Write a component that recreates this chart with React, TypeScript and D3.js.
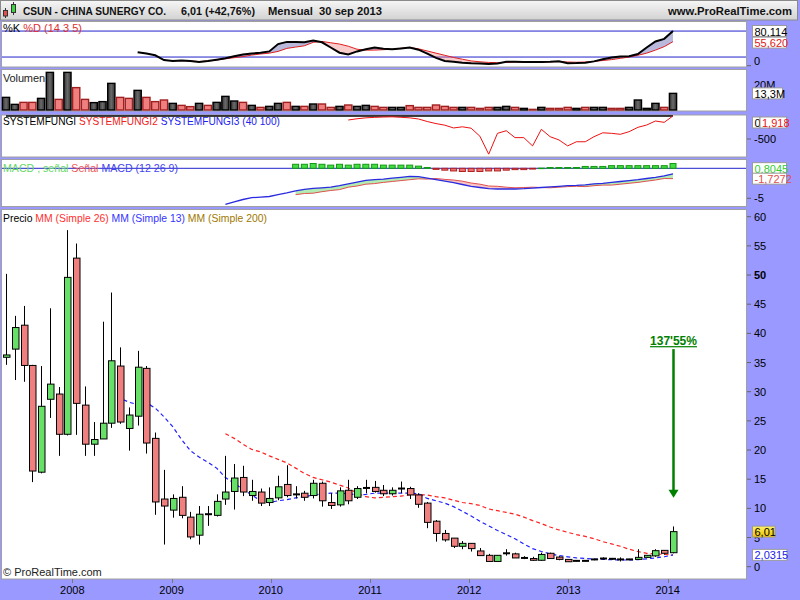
import React from "react";
import * as d3 from "d3";

// ---------------- data ----------------
const months = d3
  .timeMonths(new Date(2007, 4, 1), new Date(2013, 9, 1))
  .map((d) => d3.timeFormat("%Y-%m")(d));

const opens = [35.9,37.3,41.4,34.5,16.2,28.7,29.6,22.7,52.9,27.7, 21.0,21.9,24.6,34.4,23.7,25.8,34.0,22.0,11.6,9.7, 11.9,8.5,5.4,9.0,8.8,11.6,12.9,15.3,12.2,12.8, 11.0,11.8,14.1,12.4,12.6,12.2,14.3,11.0,10.6,13.1, 11.9,13.5,13.6,13.1,12.5,13.4,13.4,12.3,10.9,7.8, 5.7,4.9,3.5,4.0,2.7,1.95,0.9,2.3,2.2,1.5, 1.4,1.1,2.3,1.65,1.25,1.0,1.0,1.25,1.4,1.35, 1.25,1.25,1.25,1.6,1.85,2.8,2.4];
const highs = [50.2,43.0,44.7,34.6,34.4,44.3,30.8,57.7,55.4,30.9, 24.8,42.0,47.0,37.6,27.3,37.0,34.4,23.0,16.6,12.4, 13.8,9.4,10.4,10.4,12.4,19.0,17.6,17.3,14.9,13.4, 13.6,15.6,17.4,13.8,13.0,14.9,14.6,12.6,13.6,14.9, 13.8,14.9,14.7,14.0,13.6,14.6,13.7,12.6,11.1,8.0, 6.3,4.9,4.4,4.0,3.2,2.2,2.0,3.0,2.4,1.8, 1.7,2.4,2.4,1.8,1.3,1.1,1.1,1.35,1.6,1.5, 1.6,1.35,3.0,2.0,3.0,2.85,6.9];
const lows = [34.6,32.0,31.7,14.5,16.0,25.5,19.0,22.5,22.6,19.0, 19.0,21.9,23.8,24.5,19.9,24.2,19.4,8.9,3.8,8.4, 8.3,4.7,3.8,7.0,8.6,10.6,9.8,12.1,11.3,10.4, 10.4,11.4,11.9,11.7,11.3,11.7,10.3,9.9,10.3,10.7, 11.6,12.6,12.7,12.1,12.2,12.6,11.6,10.1,6.6,4.3, 4.3,3.2,3.0,2.6,1.9,0.9,0.9,1.9,1.5,1.3, 1.0,1.0,1.4,1.1,0.85,0.9,0.9,1.1,1.2,1.2, 0.9,1.15,1.2,1.5,1.7,2.05,2.3];
const closes = [36.3,41.0,34.5,16.4,27.5,31.3,22.7,49.6,28.0,21.0, 21.8,24.6,35.3,24.8,26.0,34.2,21.2,11.1,10.4,11.7, 8.8,5.1,9.0,9.0,11.2,12.8,15.2,12.8,12.9,10.9, 11.7,13.7,12.2,12.4,11.9,14.3,11.3,10.5,13.0,11.3, 13.4,13.5,12.9,12.5,13.1,13.4,12.3,10.7,7.6,5.7, 4.6,3.5,4.0,3.1,1.9,0.9,1.95,2.3,1.5,1.5, 1.1,2.1,1.4,1.25,0.85,1.0,1.0,1.25,1.4,1.35, 1.25,1.25,1.6,1.95,2.75,2.3,6.01];

// volume in millions, and whether the bar is drawn dark (1) or red (0)
const volumes = [10.1,4.5,6.1,6.1,9.3,30.1,8.5,30.1,17.9,8.5, 5.9,6.7,21.3,10.1,9.3,15.7,10.1,6.7,8.0,5.3, 3.7,2.7,5.3,3.7,6.1,10.9,7.2,6.1,3.7,2.1, 2.9,5.3,6.1,2.9,2.9,4.8,4.8,2.1,2.9,4.0, 2.9,3.7,2.9,2.1,2.1,2.1,3.5,2.1,2.1,4.0, 2.9,2.1,2.1,2.1,1.3,2.1,2.1,2.9,2.1,1.3, 0.5,2.1,1.3,1.3,2.1,1.3,2.1,2.1,2.1,1.3, 1.3,2.1,8.0,1.3,5.3,2.1,13.3];
const volumeUp = [1,1,0,0,1,1,0,1,0,0, 1,1,1,0,0,1,0,0,0,1, 0,0,1,0,1,1,1,0,1,0, 1,1,0,1,0,1,0,0,1,0, 1,1,0,0,1,1,0,0,0,0, 0,0,1,0,0,0,1,1,0,1, 0,1,0,0,0,1,0,1,1,0, 0,1,1,1,1,0,1];

const ma13Start = 12;
const ma13 = [29.8,28.9,28.2,27.8,28.1,27.2,25.7,24.0,21.8,19.9, 18.8,17.9,16.9,15.3,14.3,13.3,12.3,11.3,11.0,11.3, 11.5,11.8,12.0,12.3,12.5,12.6,12.6,12.5,12.3,12.4, 12.6,12.6,12.6,12.6,12.6,12.5,11.7,11.3,10.9,10.3, 9.5,8.7,7.8,7.0,6.2,5.5,4.8,3.9,3.1,2.6, 2.2,1.9,1.7,1.5,1.4,1.3,1.25,1.2,1.15,1.15, 1.2,1.35,1.5,1.7,2.0315];
const ma26Start = 25;
const ma26 = [22.8,22.0,21.0,20.1,19.7,19.0,18.4,17.8,16.9,16.0, 15.3,14.9,14.5,14.0,13.5,12.6,12.0,11.8,11.9,12.0, 12.1,12.3,12.3,12.3,12.0,11.8,11.4,11.0,10.8,10.5, 9.9,9.6,9.3,9.0,8.5,7.9,7.4,6.8,6.3,5.9, 5.5,5.2,4.8,4.3,3.9,3.5,3.0,2.6,2.3,2.2, 2.1,2.0];

const stochKStart = 15;
const stochK = [31,28,24,13,11,12,11,8.5,11,14, 17,22,26,28,30,33,50,55,55,54, 58,54,42,30,26,33,38,42,39,38, 40,42,37,28,18,11,9,7,5.5,5, 4,5,9,9,8.5,8.5,8.5,9,10,5.5, 6,7,10,15,19,21,22,27,42,56, 62,80.114];
const stochDStart = 19;
const stochD = [11,12,11,9.5,11,13,16,18.5,21,24.5, 27,29,33,40,43,46,54,56,53,50, 45,38,36,36,37,38,40,42,39,34, 29,24,19,15,11,9,7.5,7,7.5,8.5, 8.5,8.5,8.5,9,9.5,8.5,8,8.5,10,12, 14,17,20,24,29,36,44,55.62];

const fungi1 = 0;
const fungi2Start = 39;
const fungi2 = [-87,-60,-40,-30,-22,-18,-28,-40,-65,-120, -165,-200,-260,-235,-265,-440,-830,-377,-320,-470, -470,-650,-290,-450,-520,-650,-560,-560,-450,-365, -377,-398,-341,-246,-196,-109,-138,1.918];

const macdStart = 25;
const macdLine = [-6.0,-5.6,-5.2,-4.9,-4.8,-4.7,-4.4,-4.1,-3.75,-3.5, -3.35,-3.25,-3.15,-2.9,-2.6,-2.3,-2.0,-1.9,-1.8,-1.65, -1.5,-1.35,-1.4,-1.65,-1.9,-2.15,-2.4,-2.7,-3.0,-3.2, -3.4,-3.45,-3.45,-3.45,-3.4,-3.3,-3.2,-3.1,-3.0,-2.9, -2.85,-2.75,-2.6,-2.5,-2.35,-2.2,-2.05,-1.9,-1.7,-1.5, -1.25,-0.92];
const signalStart = 33;
const macdSignal = [-4.4,-4.2,-4.15,-3.9,-3.7,-3.55,-3.15,-2.95,-2.65,-2.55, -2.35,-2.2,-2.05,-1.9,-1.75,-1.8,-1.7,-1.85,-1.95,-2.15, -2.45,-2.65,-2.95,-3.0,-3.15,-3.25,-3.2,-3.15,-3.2,-3.25, -3.15,-3.05,-3.0,-3.05,-2.9,-2.8,-2.8,-2.65,-2.5,-2.35, -2.15,-1.95,-1.7,-1.7272];
const macdHist = [0.67,0.67,0.8,0.67,0.53,0.67,0.53,0.67,0.67,0.67, 0.53,0.53,0.53,0.53,0.36,0.13,-0.18,-0.31,-0.44,-0.53, -0.53,-0.53,-0.44,-0.44,-0.31,-0.22,-0.22,-0.13,0.03,0.13, 0.13,0.13,0.13,0.31,0.31,0.31,0.44,0.44,0.44,0.44, 0.44,0.44,0.44,0.8045];

const years = [2008, 2009, 2010, 2011, 2012, 2013, 2014];
const priceTicks = [0, 5, 10, 15, 20, 25, 30, 35, 40, 45, 50, 55, 60];
const arrowFrom = 37.3;
const arrowTo = 11.8;
const arrowLabel = "137'55%";

// ---------------- styling ----------------
const FONT = "'Liberation Sans', Arial, Helvetica, sans-serif";
const BG = "#9999ff";
const BORDER = "#a0a0a0";
const GREEN = "#66e066";
const RED = "#f08080";

type P = { i: number; v: number };
const toSeries = (vals: number[], start: number): P[] => vals.map((v, k) => ({ i: start + k, v }));
const fmt = (v: number, d: number) => v.toFixed(d).replace(".", ",");

function ValueBox({ x, y, w, text, color, fill }: any) {
  const h = 11;
  return (
    <g>
      <rect x={x} y={y - h / 2} width={w} height={h} fill={fill || "#ffffff"} stroke="#9a9a9a" strokeWidth={1} />
      <text x={x + 2} y={y + 0.5} fontSize={11} fontFamily={FONT} fill={color} dominantBaseline="central">
        {text}
      </text>
    </g>
  );
}

export default function App() {
  const N = months.length;
  const x = d3.scalePoint<string>().domain(months).range([6, 673]);
  const xi = (i: number) => x(months[i]) as number;
  const xYear = d3.scaleLinear().domain([2008, 2014]).range([72.3, 667.7]);

  const yP = d3.scaleLinear().domain([0, 60]).range([566.7, 216.7]);
  const yK = d3.scaleLinear().domain([0, 100]).range([65.7, 22.4]);
  const yV = d3.scaleLinear().domain([0, 20]).range([110, 85]);
  const yF = d3.scaleLinear().domain([-500, 0]).range([139, 116]);
  const yM = d3.scaleLinear().domain([-5, 0]).range([198.3, 168.3]);

  const panels = [
    { y0: 21, y1: 66.5 },
    { y0: 69, y1: 110.5 },
    { y0: 114.5, y1: 156.5 },
    { y0: 159, y1: 206 },
    { y0: 209, y1: 578.5 },
  ];
  const plotX0 = 1;
  const plotX1 = 747;

  const s13 = toSeries(ma13, ma13Start);
  const s26 = toSeries(ma26, ma26Start);
  const sK = toSeries(stochK, stochKStart);
  const sD = toSeries(stochD, stochDStart);
  const sF2 = toSeries(fungi2, fungi2Start);
  const sMacd = toSeries(macdLine, macdStart);
  const sSig = toSeries(macdSignal, signalStart);
  const sHist = toSeries(macdHist, signalStart);

  const linePrice = d3.line<P>().x((d) => xi(d.i)).y((d) => yP(d.v));
  const lineK = d3.line<P>().x((d) => xi(d.i)).y((d) => yK(d.v));
  const lineF = d3.line<P>().x((d) => xi(d.i)).y((d) => yF(d.v));
  const lineM = d3.line<P>().x((d) => xi(d.i)).y((d) => yM(d.v));

  const kdPairs = sD.map((d) => ({ i: d.i, k: stochK[d.i - stochKStart], d: d.v }));
  const areaKup = d3.area<any>().x((p) => xi(p.i)).y0((p) => yK(p.d)).y1((p) => yK(Math.max(p.k, p.d)));
  const areaKdn = d3.area<any>().x((p) => xi(p.i)).y0((p) => yK(p.d)).y1((p) => yK(Math.min(p.k, p.d)));

  const msPairs = sSig.map((s) => ({ i: s.i, m: macdLine[s.i - macdStart], s: s.v }));
  const areaMup = d3.area<any>().x((p) => xi(p.i)).y0((p) => yM(p.s)).y1((p) => yM(Math.max(p.m, p.s)));
  const areaMdn = d3.area<any>().x((p) => xi(p.i)).y0((p) => yM(p.s)).y1((p) => yM(Math.min(p.m, p.s)));

  const fungiFlat = d3.range(N).map((i) => ({ i, v: fungi1 }));

  const last = N - 1;
  const ax = Math.round(xi(last)) + 0.5;

  return (
    <svg width={800} height={600} style={{ position: "absolute", left: 0, top: 0 }} fontFamily={FONT}>
      <defs>
        <linearGradient id="hdr" x1="0" y1="0" x2="0" y2="1">
          <stop offset="0" stopColor="#f6f6f6" />
          <stop offset="1" stopColor="#d2d2d2" />
        </linearGradient>
        <linearGradient id="gold" x1="0" y1="0" x2="0" y2="1">
          <stop offset="0" stopColor="#fff36a" />
          <stop offset="1" stopColor="#f0c000" />
        </linearGradient>
        <linearGradient id="volDark" x1="0" y1="0" x2="1" y2="0">
          <stop offset="0" stopColor="#333" />
          <stop offset="0.5" stopColor="#6a6a6a" />
          <stop offset="1" stopColor="#333" />
        </linearGradient>
      </defs>
      <rect x={0} y={0} width={800} height={600} fill={BG} />

      {panels.map((p, k) => (
        <rect key={k} x={plotX0 + 0.5} y={p.y0 + 0.5} width={plotX1 - plotX0 - 1} height={p.y1 - p.y0} fill="#ffffff" stroke={BORDER} strokeWidth={1} />
      ))}

      {/* ---------- stochastic ---------- */}
      <g>
        <line x1={plotX0 + 1} x2={plotX1 - 1} y1={yK(80)} y2={yK(80)} stroke="#2222cc" strokeWidth={1} />
        <line x1={plotX0 + 1} x2={plotX1 - 1} y1={yK(20)} y2={yK(20)} stroke="#2222cc" strokeWidth={1} />
        <path d={areaKup(kdPairs) || ""} fill="#8080c0" fillOpacity={0.55} />
        <path d={areaKdn(kdPairs) || ""} fill="#f08080" fillOpacity={0.4} />
        <path d={lineK(sD) || ""} fill="none" stroke="#e02020" strokeWidth={1} />
        <path d={lineK(sK) || ""} fill="none" stroke="#000" strokeWidth={2} />
        <text x={3} y={32} fontSize={11} textLength={79} lengthAdjust="spacing">
          <tspan fill="#000">%K </tspan>
          <tspan fill="#e03030">%D (14 3 5)</tspan>
        </text>
      </g>

      {/* ---------- volume ---------- */}
      <g>
        {volumes.map((v, i) => {
          const cx = xi(i);
          const top = yV(v);
          const up = volumeUp[i] === 1;
          return (
            <rect key={i} x={cx - 3.6} y={top} width={7.2} height={yV(0) - top} fill={up ? "url(#volDark)" : RED} stroke={up ? "#000" : "#a02020"} strokeWidth={1.4} />
          );
        })}
        <text x={3} y={82} fontSize={11} fill="#222" textLength={42} lengthAdjust="spacing">Volumen</text>
      </g>

      {/* ---------- systemfungi ---------- */}
      <g>
        <path d={lineF(fungiFlat) || ""} fill="none" stroke="#000" strokeWidth={1.5} />
        <path d={lineF(sF2) || ""} fill="none" stroke="#ee1111" strokeWidth={1} />
        <text x={3} y={125} fontSize={11} textLength={277} lengthAdjust="spacingAndGlyphs">
          <tspan fill="#000">SYSTEMFUNGI </tspan>
          <tspan fill="#ee2222">SYSTEMFUNGI2 </tspan>
          <tspan fill="#2222ee">SYSTEMFUNGI3 (40 100)</tspan>
        </text>
      </g>

      {/* ---------- MACD ---------- */}
      <g>
        <line x1={plotX0 + 1} x2={plotX1 - 1} y1={yM(0)} y2={yM(0)} stroke="#2222cc" strokeWidth={1} />
        {sHist.map((d) => {
          const cx = xi(d.i);
          const y0 = yM(0);
          const y1 = yM(d.v);
          const pos = d.v >= 0;
          return (
            <rect key={d.i} x={cx - 3} y={Math.min(y0, y1)} width={6} height={Math.max(0.5, Math.abs(y1 - y0))} fill={pos ? "#44dd44" : "#f07070"} stroke={pos ? "#119911" : "#b02020"} strokeWidth={1} />
          );
        })}
        <path d={areaMup(msPairs) || ""} fill="#7ee07e" fillOpacity={0.6} />
        <path d={areaMdn(msPairs) || ""} fill="#f08080" fillOpacity={0.45} />
        <path d={lineM(sSig) || ""} fill="none" stroke="#e05050" strokeWidth={1} />
        <path d={lineM(sMacd) || ""} fill="none" stroke="#2a2ae0" strokeWidth={1.3} />
        <text x={3} y={172} fontSize={11} textLength={175} lengthAdjust="spacingAndGlyphs">
          <tspan fill="#66d866">MACD , señal </tspan>
          <tspan fill="#ee5555">Señal </tspan>
          <tspan fill="#4444ee">MACD (12 26 9)</tspan>
        </text>
      </g>

      {/* ---------- price ---------- */}
      <g>
        <path d={linePrice(s26) || ""} fill="none" stroke="#ff2020" strokeWidth={1.2} strokeDasharray="4,3" />
        <path d={linePrice(s13) || ""} fill="none" stroke="#2020ff" strokeWidth={1.2} strokeDasharray="4,3" />
        {d3.range(N).map((i) => {
          const cx = Math.round(xi(i)) + 0.5;
          const o = opens[i];
          const c = closes[i];
          const doji = Math.abs(o - c) < 0.02;
          const top = yP(Math.max(o, c));
          const bot = yP(Math.min(o, c));
          return (
            <g key={i}>
              <line x1={cx} x2={cx} y1={yP(highs[i])} y2={yP(lows[i])} stroke="#000" strokeWidth={1} />
              {doji ? (
                <line x1={cx - 3.5} x2={cx + 3.5} y1={yP(c)} y2={yP(c)} stroke="#000" strokeWidth={2} />
              ) : (
                <rect x={cx - 3} y={top} width={6.5} height={Math.max(1, bot - top)} fill={c > o ? GREEN : RED} stroke="#000" strokeWidth={1} />
              )}
            </g>
          );
        })}
        <text x={3} y={221.5} fontSize={11} textLength={264} lengthAdjust="spacingAndGlyphs">
          <tspan fill="#000">Precio </tspan>
          <tspan fill="#ff3030">MM (Simple 26) </tspan>
          <tspan fill="#3333ff">MM (Simple 13) </tspan>
          <tspan fill="#a07800">MM (Simple 200)</tspan>
        </text>
        <text x={ax} y={yP(arrowFrom) - 4} fontSize={12} fontWeight="bold" fill="#008000" textAnchor="middle" textDecoration="underline">
          {arrowLabel}
        </text>
        <line x1={ax} x2={ax} y1={yP(arrowFrom)} y2={yP(arrowTo) - 6} stroke="#008000" strokeWidth={2.5} />
        <path d={`M${ax - 5},${yP(arrowTo) - 8} L${ax + 5},${yP(arrowTo) - 8} L${ax},${yP(arrowTo)} Z`} fill="#008000" />
        <text x={3} y={576} fontSize={11} fill="#222">© ProRealTime.com</text>
      </g>

      {/* ---------- right axes ---------- */}
      <g fontSize={11} fill="#000">
        {priceTicks.map((t) => (
          <g key={t}>
            <line x1={plotX1} x2={plotX1 + 4} y1={yP(t)} y2={yP(t)} stroke="#666" />
            <text x={754} y={yP(t)} dominantBaseline="central" fontWeight={t === 50 ? "bold" : "normal"}>{t}</text>
          </g>
        ))}
        <line x1={plotX1} x2={plotX1 + 4} y1={yK(0)} y2={yK(0)} stroke="#666" />
        <text x={754} y={yK(0) - 4.5} dominantBaseline="central">0</text>
        <text x={754} y={yV(20)} dominantBaseline="central">20M</text>
        <line x1={plotX1} x2={plotX1 + 4} y1={yF(-500)} y2={yF(-500)} stroke="#666" />
        <text x={754} y={yF(-500)} dominantBaseline="central">-500</text>
        <line x1={plotX1} x2={plotX1 + 4} y1={yM(-5)} y2={yM(-5)} stroke="#666" />
        <text x={754} y={yM(-5)} dominantBaseline="central">-5</text>
      </g>

      {/* value boxes */}
      <ValueBox x={752.5} y={yK(stochK[stochK.length - 1])} w={34} text={fmt(stochK[stochK.length - 1], 3)} color="#000" />
      <ValueBox x={752.5} y={yK(stochD[stochD.length - 1]) + 1} w={34} text={fmt(stochD[stochD.length - 1], 3)} color="#e02020" />
      <ValueBox x={752.5} y={yV(volumes[last])} w={30} text={fmt(volumes[last], 1) + "M"} color="#000" />
      <ValueBox x={752.5} y={Math.max(yF(fungi1), panels[2].y0 + 8)} w={7.5} text={String(fungi1)} color="#000" />
      <ValueBox x={760} y={Math.max(yF(fungi2[fungi2.length - 1]), panels[2].y0 + 8)} w={26.5} text={fmt(fungi2[fungi2.length - 1], 3)} color="#ee1111" />
      <ValueBox x={752.5} y={yM(macdSignal[macdSignal.length - 1]) - 10.5} w={34} text={fmt(macdHist[macdHist.length - 1], 4)} color="#33cc33" />
      <ValueBox x={752.5} y={yM(macdSignal[macdSignal.length - 1])} w={34} text={fmt(macdSignal[macdSignal.length - 1], 4)} color="#e05050" />
      <ValueBox x={752.5} y={yP(closes[last])} w={22.5} text={fmt(closes[last], 2)} color="#000" fill="url(#gold)" />
      <ValueBox x={752.5} y={yP(ma13[ma13.length - 1])} w={34.5} text={fmt(ma13[ma13.length - 1], 4)} color="#2020ee" />

      {/* ---------- x axis ---------- */}
      <g>
        {years.map((yr) => (
          <g key={yr}>
            <line x1={Math.round(xYear(yr)) + 0.5} x2={Math.round(xYear(yr)) + 0.5} y1={579} y2={583} stroke="#777" />
            <text x={xYear(yr)} y={594} fontSize={11} textAnchor="middle" fill="#000">{yr}</text>
          </g>
        ))}
      </g>

      {/* ---------- header ---------- */}
      <g>
        <rect x={0.5} y={0.5} width={797} height={19.5} fill="url(#hdr)" stroke="#8a8a8a" />
        <line x1={5.5} x2={5.5} y1={8} y2={18} stroke="#333" />
        <rect x={3.5} y={10.5} width={4} height={5.5} fill="#e05050" stroke="#333" />
        <line x1={13.5} x2={13.5} y1={2} y2={15} stroke="#333" />
        <rect x={11.5} y={4.5} width={4} height={8} fill="#40d040" stroke="#333" />
        <text x={23} y={15} fontSize={11} fontWeight="bold" fill="#111" textLength={143} lengthAdjust="spacingAndGlyphs">CSUN - CHINA SUNERGY CO.</text>
        <text x={181} y={15} fontSize={11} fontWeight="bold" fill="#111" textLength={74} lengthAdjust="spacingAndGlyphs">6,01 (+42,76%)</text>
        <text x={268} y={15} fontSize={11} fontWeight="bold" fill="#111" textLength={114} lengthAdjust="spacingAndGlyphs" style={{ whiteSpace: "pre" }}>{"Mensual  30 sep 2013"}</text>
        <text x={668} y={15} fontSize={11} fontWeight="bold" fill="#111" textLength={124} lengthAdjust="spacingAndGlyphs">www.ProRealTime.com</text>
      </g>
    </svg>
  );
}
